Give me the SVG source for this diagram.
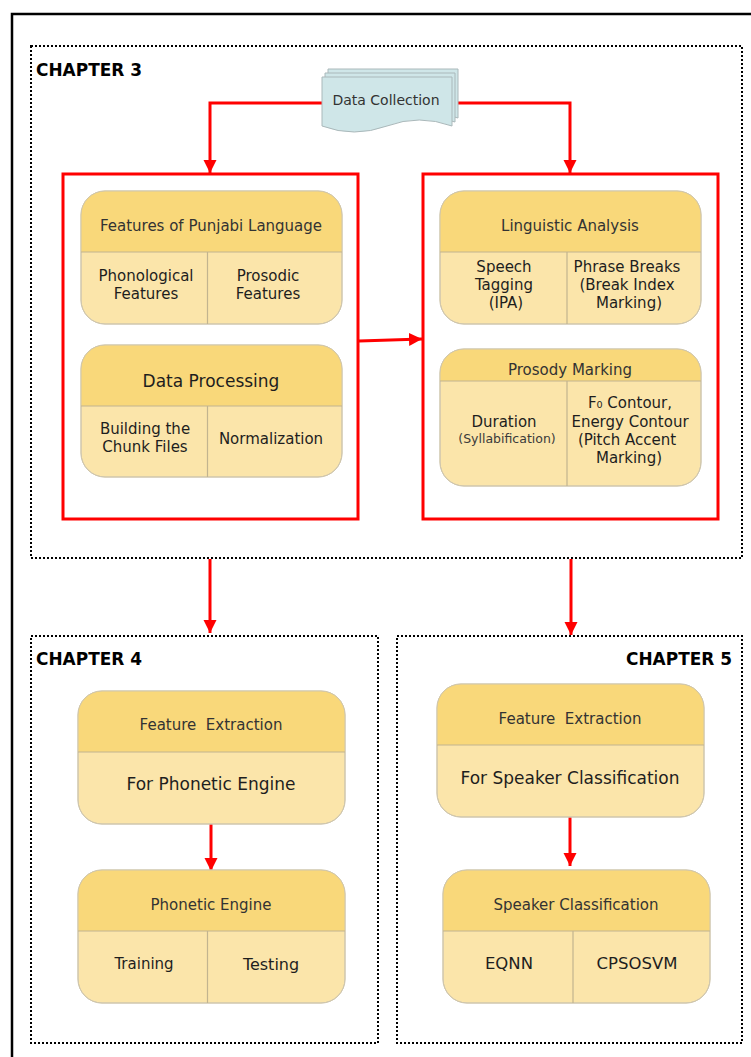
<svg xmlns="http://www.w3.org/2000/svg" width="751" height="1057" viewBox="0 0 751 1057">
  <defs>
    <style>
      .frame { fill: none; stroke: #000; stroke-width: 2.5; }
      .chapter { fill: none; stroke: #000; stroke-width: 2; stroke-dasharray: 2 2; }
      .group { fill: none; stroke: #ff0000; stroke-width: 3; }
      .flow { fill: none; stroke: #ff0000; stroke-width: 3; marker-end: url(#arrow); }
      .body { fill: #fbe5aa; stroke: #cfc6ad; stroke-width: 1; }
      .head { fill: #f9d87a; stroke: none; }
      .rule { stroke: #c2b48f; stroke-width: 1.2; fill: none; }
      .doc { fill: #cfe6e8; stroke: #aab8ba; stroke-width: 1; }
      text { font-family: "DejaVu Sans", Verdana, sans-serif; text-anchor: middle; }
      .h { font-size: 15px; fill: #333; }
      .t { font-size: 15px; fill: #1e1e1e; }
      .big { font-size: 17px; fill: #1e1e1e; }
      .small { font-size: 12.5px; fill: #3a3a3a; }
      .label { font-family: "DejaVu Sans Condensed", "DejaVu Sans", sans-serif; font-stretch: condensed; font-weight: bold; font-size: 17px; fill: #000; text-anchor: start; }
    </style>
    <marker id="arrow" markerUnits="userSpaceOnUse" markerWidth="14" markerHeight="14" refX="13" refY="6.5" orient="auto">
      <path d="M0,0 L13,6.5 L0,13 Z" fill="#ff0000"/>
    </marker>
  </defs>

  <!-- outer page frame -->
  <rect class="frame" x="12" y="14" width="760" height="1070"/>

  <!-- chapter regions -->
  <g id="chapter3">
    <rect class="chapter" x="31" y="46" width="711" height="512"/>
    <text class="label" x="36" y="76" textLength="106" lengthAdjust="spacingAndGlyphs">CHAPTER 3</text>
  </g>
  <g id="chapter4">
    <rect class="chapter" x="31" y="636" width="347" height="407"/>
    <text class="label" x="36" y="665" textLength="106" lengthAdjust="spacingAndGlyphs">CHAPTER 4</text>
  </g>
  <g id="chapter5">
    <rect class="chapter" x="397" y="636" width="345" height="407"/>
    <text class="label" x="626" y="665" textLength="106" lengthAdjust="spacingAndGlyphs">CHAPTER 5</text>
  </g>

  <!-- red grouping frames -->
  <g id="group-left"><rect class="group" x="63" y="174" width="295" height="345"/></g>
  <g id="group-right"><rect class="group" x="423" y="174" width="295" height="345"/></g>

  <!-- connectors -->
  <g id="connectors">
    <path class="flow" d="M322,103 H210 V173"/>
    <path class="flow" d="M452,103 H570 V173"/>
    <path class="flow" d="M359,341 L422,339"/>
    <path class="flow" d="M210,559 V633"/>
    <path class="flow" d="M571,559 V635"/>
    <path class="flow" d="M211,824 V871"/>
    <path class="flow" d="M570,817 V866"/>
  </g>

  <!-- data collection: stacked documents -->
  <g id="data-collection">
    <path class="doc" d="M328,69 H458 V118 Q425,106 393,118 Q360,130 328,118 Z"/>
    <path class="doc" d="M325,73 H455 V122 Q422,110 390,122 Q357,134 325,122 Z"/>
    <path class="doc" d="M322,77 H452 V126 Q419,114 387,126 Q354,138 322,126 Z"/>
    <text x="386" y="105" style="font-size:14px;fill:#333">Data Collection</text>
  </g>

  <!-- Features of Punjabi Language -->
  <g id="features">
    <rect class="body" x="81" y="191" width="261" height="133" rx="24"/>
    <path class="head" d="M81,252 V215 A24,24 0 0 1 105,191 H318 A24,24 0 0 1 342,215 V252 Z"/>
    <rect x="81" y="191" width="261" height="133" rx="24" fill="none" stroke="#cfc6ad"/>
    <path class="rule" d="M81,252 H342 M207.5,252 V324"/>
    <text class="h" x="211" y="231">Features of Punjabi Language</text>
    <text class="t" x="146" y="281">Phonological</text>
    <text class="t" x="146" y="299">Features</text>
    <text class="t" x="268" y="281">Prosodic</text>
    <text class="t" x="268" y="299">Features</text>
  </g>

  <!-- Data Processing -->
  <g id="data-processing">
    <rect class="body" x="81" y="345" width="261" height="132" rx="24"/>
    <path class="head" d="M81,406 V369 A24,24 0 0 1 105,345 H318 A24,24 0 0 1 342,369 V406 Z"/>
    <rect x="81" y="345" width="261" height="132" rx="24" fill="none" stroke="#cfc6ad"/>
    <path class="rule" d="M81,406 H342 M207.5,406 V477"/>
    <text class="big" x="211" y="387">Data Processing</text>
    <text class="t" x="145" y="434">Building the</text>
    <text class="t" x="145" y="452">Chunk Files</text>
    <text class="t" x="271" y="444">Normalization</text>
  </g>

  <!-- Linguistic Analysis -->
  <g id="linguistic-analysis">
    <rect class="body" x="440" y="191" width="261" height="133" rx="24"/>
    <path class="head" d="M440,252 V215 A24,24 0 0 1 464,191 H677 A24,24 0 0 1 701,215 V252 Z"/>
    <rect x="440" y="191" width="261" height="133" rx="24" fill="none" stroke="#cfc6ad"/>
    <path class="rule" d="M440,252 H701 M567,252 V324"/>
    <text class="h" x="570" y="231">Linguistic Analysis</text>
    <text class="t" x="504" y="272">Speech</text>
    <text class="t" x="504" y="290">Tagging</text>
    <text class="t" x="506" y="308">(IPA)</text>
    <text class="t" x="627" y="272">Phrase Breaks</text>
    <text class="t" x="627" y="290">(Break Index</text>
    <text class="t" x="629" y="308">Marking)</text>
  </g>

  <!-- Prosody Marking -->
  <g id="prosody-marking">
    <rect class="body" x="440" y="349" width="261" height="137" rx="24"/>
    <path class="head" d="M440,381 V373 A24,24 0 0 1 464,349 H677 A24,24 0 0 1 701,373 V381 Z"/>
    <rect x="440" y="349" width="261" height="137" rx="24" fill="none" stroke="#cfc6ad"/>
    <path class="rule" d="M440,381 H701 M567,381 V486"/>
    <text class="h" x="570" y="375">Prosody Marking</text>
    <text class="t" x="504" y="427">Duration</text>
    <text class="small" x="507" y="443">(Syllabification)</text>
    <text class="t" x="630" y="408">F₀ Contour,</text>
    <text class="t" x="630" y="427">Energy Contour</text>
    <text class="t" x="627" y="445">(Pitch Accent</text>
    <text class="t" x="629" y="463">Marking)</text>
  </g>

  <!-- Feature Extraction (phonetic engine) -->
  <g id="fe-phonetic">
    <rect class="body" x="78" y="691" width="267" height="133" rx="24"/>
    <path class="head" d="M78,752 V715 A24,24 0 0 1 102,691 H321 A24,24 0 0 1 345,715 V752 Z"/>
    <rect x="78" y="691" width="267" height="133" rx="24" fill="none" stroke="#cfc6ad"/>
    <path class="rule" d="M78,752 H345"/>
    <text class="h" x="211" y="730" xml:space="preserve">Feature  Extraction</text>
    <text class="big" x="211" y="790">For Phonetic Engine</text>
  </g>

  <!-- Phonetic Engine -->
  <g id="phonetic-engine">
    <rect class="body" x="78" y="870" width="267" height="133" rx="24"/>
    <path class="head" d="M78,931 V894 A24,24 0 0 1 102,870 H321 A24,24 0 0 1 345,894 V931 Z"/>
    <rect x="78" y="870" width="267" height="133" rx="24" fill="none" stroke="#cfc6ad"/>
    <path class="rule" d="M78,931 H345 M207.5,931 V1003"/>
    <text class="h" x="211" y="910">Phonetic Engine</text>
    <text x="144" y="969" style="font-size:15px;fill:#1e1e1e">Training</text>
    <text x="271" y="970" style="font-size:16px;fill:#1e1e1e">Testing</text>
  </g>

  <!-- Feature Extraction (speaker classification) -->
  <g id="fe-speaker">
    <rect class="body" x="437" y="684" width="267" height="133" rx="24"/>
    <path class="head" d="M437,745 V708 A24,24 0 0 1 461,684 H680 A24,24 0 0 1 704,708 V745 Z"/>
    <rect x="437" y="684" width="267" height="133" rx="24" fill="none" stroke="#cfc6ad"/>
    <path class="rule" d="M437,745 H704"/>
    <text class="h" x="570" y="724" xml:space="preserve">Feature  Extraction</text>
    <text class="big" x="570" y="784">For Speaker Classification</text>
  </g>

  <!-- Speaker Classification -->
  <g id="speaker-classification">
    <rect class="body" x="443" y="870" width="267" height="133" rx="24"/>
    <path class="head" d="M443,931 V894 A24,24 0 0 1 467,870 H686 A24,24 0 0 1 710,894 V931 Z"/>
    <rect x="443" y="870" width="267" height="133" rx="24" fill="none" stroke="#cfc6ad"/>
    <path class="rule" d="M443,931 H710 M573,931 V1003"/>
    <text class="h" x="576" y="910">Speaker Classification</text>
    <text x="509" y="969" style="font-size:16.5px;fill:#1e1e1e">EQNN</text>
    <text x="637" y="969" style="font-size:16.5px;fill:#1e1e1e">CPSOSVM</text>
  </g>
</svg>
